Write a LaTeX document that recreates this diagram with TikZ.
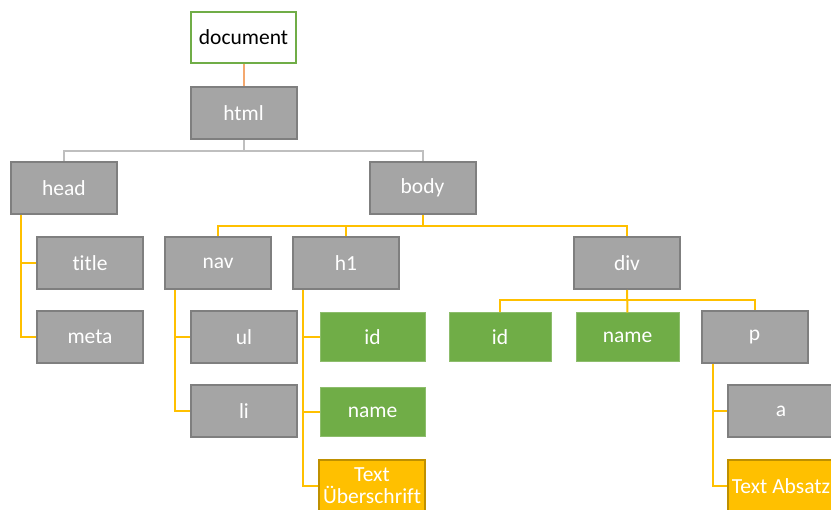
\documentclass[tikz,border=0pt]{standalone}
\usepackage{fontspec}
\setmainfont{Carlito}[Ligatures={NoCommon}]
\usepackage{tikz}
\definecolor{boxgray}{HTML}{A5A5A5}
\definecolor{edgegray}{HTML}{7F7F7F}
\definecolor{linegray}{HTML}{BFBFBF}
\definecolor{attrgreen}{HTML}{70AD47}
\definecolor{textyellow}{HTML}{FFC000}
\definecolor{edgeyellow}{HTML}{BF9000}
\definecolor{linkorange}{HTML}{F4A86E}
\tikzstyle{root} = [rectangle, minimum width=105, minimum height=51, text centered, draw=attrgreen, line width=2, fill=white, text=black]
\tikzstyle{element} = [rectangle, minimum width=106, minimum height=52, text centered, draw=edgegray, line width=2, fill=boxgray, text=white]
\tikzstyle{attribute} = [rectangle, minimum width=105, minimum height=49, text centered, draw=attrgreen!80!white, line width=1, fill=attrgreen, text=white]
\tikzstyle{content} = [rectangle, minimum width=106, minimum height=52, align=center, draw=edgeyellow, line width=2, fill=textyellow, text=white, inner sep=0]
\tikzstyle{line} = [line width=2, draw=textyellow]
\tikzstyle{topline} = [line width=2, draw=linegray]

\begin{document}
\begin{tikzpicture}[x=1pt, y=-1pt, font=\fontsize{21.5}{22}\selectfont]
\useasboundingbox (0,0) rectangle (831,510);
\clip (0,0) rectangle (831,510);

\node (doc) [root] at (243.5,37.5) {document};
\node (html) [element] at (243.5,113) {html};
\node (head) [element] at (64,188) {head};
\node (body) [element] at (422.5,188) {body};

\node (title) [element] at (90,263) {title};
\node (meta) [element] at (90,337) {meta};

\node (nav) [element] at (218,263) {nav};
\node (h1) [element] at (346,263) {h1};
\node (div) [element] at (627,263) {div};

\node (ul) [element] at (244,337) {ul};
\node (li) [element] at (244,411) {li};

\node (h1id) [attribute] at (372.5,337.5) {id};
\node (h1name) [attribute] at (372.5,412) {name};
\node (h1text) [content] at (372,486) {Text\\Überschrift};

\node (divid) [attribute, minimum width=102] at (500,337.5) {id};
\node (divname) [attribute, minimum width=103] at (627.5,337.5) {name};
\node (p) [element] at (754.5,337) {p};

\node (a) [element] at (781,411) {a};
\node (ptext) [content] at (781,486) {Text Absatz};

\draw [line width=2, linkorange] (doc) -- (html);
\draw [topline] (html.south) -- ++(0,11) -| (head.north);
\draw [topline] (html.south) -- ++(0,11) -| (body.north);

\draw [line] (body.south) -- ++(0,11) -| (nav.north);
\draw [line] (body.south) -- ++(0,11) -| (h1.north);
\draw [line] (body.south) -- ++(0,11) -| (div.north);

\draw [line] (div.south) -- ++(0,10) -| (divid.north);
\draw [line] (div.south) -- (divname.north);
\draw [line] (div.south) -- ++(0,10) -| (p.north);

\draw [line] ([xshift=11]head.south west) |- (title.west);
\draw [line] ([xshift=11]head.south west) |- (meta.west);

\draw [line] ([xshift=11]nav.south west) |- (ul.west);
\draw [line] ([xshift=11]nav.south west) |- (li.west);

\draw [line] ([xshift=11]h1.south west) |- (h1id.west);
\draw [line] ([xshift=11]h1.south west) |- (h1name.west);
\draw [line] ([xshift=11]h1.south west) |- (h1text.west);

\draw [line] ([xshift=12]p.south west) |- (a.west);
\draw [line] ([xshift=12]p.south west) |- (ptext.west);

\end{tikzpicture}
\end{document}
